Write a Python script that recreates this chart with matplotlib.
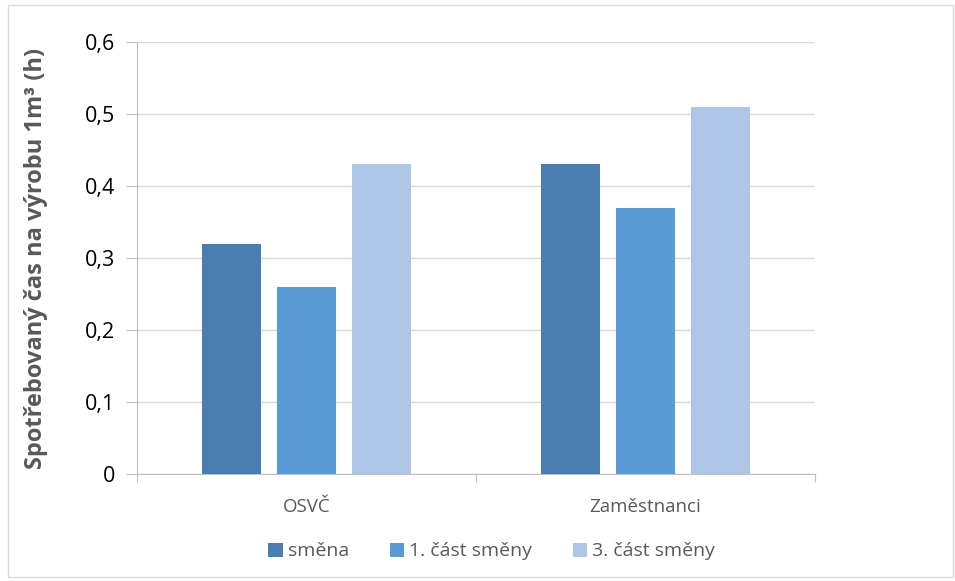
import numpy as np
import matplotlib.pyplot as plt
from matplotlib.patches import Rectangle

# data
categories = ['OSVČ', 'Zaměstnanci']
series_names = ['směna', '1. část směny', '3. část směny']
smena = [0.32, 0.43]
cast1 = [0.26, 0.37]
cast3 = [0.43, 0.51]
colors = ['#4A7EB0', '#5B9BD5', '#ADC6E6']

plt.rcParams['font.family'] = ['Open Sans', 'DejaVu Sans']

fig = plt.figure(figsize=(9.55, 5.81), dpi=100)
ax = fig.add_axes([137 / 955, 1 - 474 / 581, (815 - 137) / 955, (474 - 42) / 581])

x = np.arange(len(categories))
width = 0.174
step = 0.221
for i, (vals, name) in enumerate(zip([smena, cast1, cast3], series_names)):
    ax.bar(x + (i - 1) * step, vals, width, color=colors[i], label=name, zorder=3)

ax.set_xlim(-0.5, 1.5)
ax.set_ylim(0, 0.6)
ax.set_yticks(np.arange(0, 0.61, 0.1))
ax.set_yticklabels(['0', '0,1', '0,2', '0,3', '0,4', '0,5', '0,6'], fontsize=15.5, color='#000000')
ax.yaxis.grid(True, color='#D9D9D9', linewidth=1, zorder=0)

# category ticks as separators
ax.set_xticks([-0.5, 0.5, 1.5])
ax.set_xticklabels([])
ax.set_xticks(x, minor=True)
ax.set_xticklabels(categories, minor=True, fontsize=13.5, color='#595959')
ax.tick_params(axis='x', which='major', length=6, color='#BFBFBF', direction='out')
ax.tick_params(axis='x', which='minor', length=0, pad=17)
ax.tick_params(axis='y', length=8, color='#BFBFBF', pad=8)

for s in ['top', 'right']:
    ax.spines[s].set_visible(False)
ax.spines['left'].set_color('#BFBFBF')
ax.spines['bottom'].set_color('#BFBFBF')

ax.set_ylabel('Spotřebovaný čas na výrobu 1m³ (h)', fontsize=17, fontweight='bold',
              color='#595959', labelpad=26)

leg = ax.legend(loc='upper center', bbox_to_anchor=(0.523, -0.118), ncol=3, frameon=False,
                fontsize=14, handlelength=0.75, handleheight=0.75, handletextpad=0.25,
                columnspacing=2.1, labelcolor='#595959')

# chart frame
fig.patches.append(Rectangle((8 / 955, 4 / 581), 945 / 955, 572 / 581, transform=fig.transFigure,
                             fill=False, edgecolor='#D9D9D9', linewidth=1))

fig.savefig('out.png', dpi=100)
